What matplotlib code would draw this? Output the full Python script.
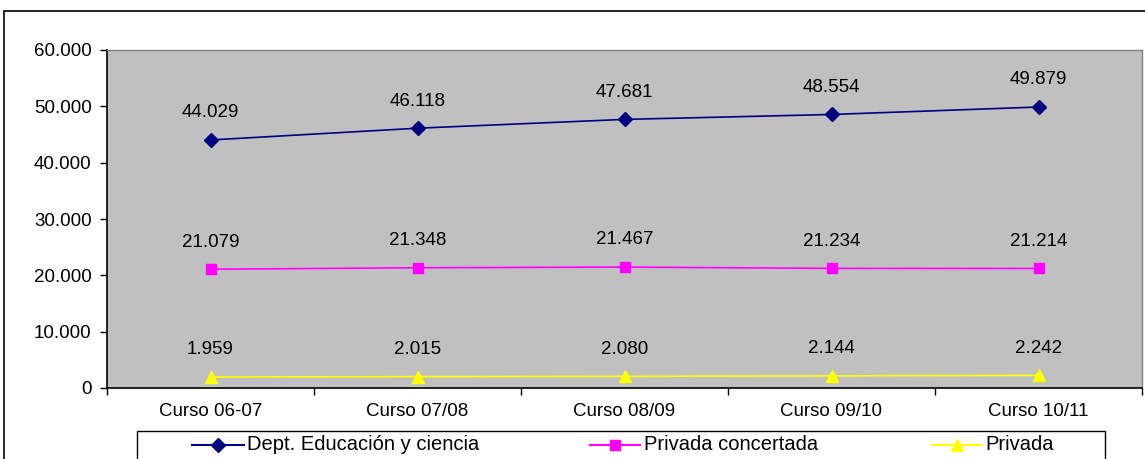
import matplotlib
matplotlib.use("Agg")
import matplotlib.pyplot as plt
from matplotlib.lines import Line2D
from matplotlib.patches import Rectangle
from matplotlib.ticker import FuncFormatter, FixedLocator

plt.rcParams['font.family'] = ['Liberation Sans', 'DejaVu Sans']

categories = ["Curso 06-07", "Curso 07/08", "Curso 08/09", "Curso 09/10", "Curso 10/11"]
dept = [44029, 46118, 47681, 48554, 49879]
concertada = [21079, 21348, 21467, 21234, 21214]
privada = [1959, 2015, 2080, 2144, 2242]
series_names = ["Dept. Educación y ciencia", "Privada concertada", "Privada"]

W, H = 1145, 459
FS = 13.5
fig = plt.figure(figsize=(W/100, H/100), dpi=100)
fig.patch.set_facecolor('white')

# outer chart border
fig.patches.append(Rectangle((4/W, -0.1), 1.2, 1 - 11/H + 0.1, transform=fig.transFigure,
                             fill=False, edgecolor='black', linewidth=1.2, clip_on=False))

ax = fig.add_axes([107/W, 1 - 388/H, (1142-107)/W, (388-50)/H])
ax.set_facecolor('#C0C0C0')

x = list(range(len(categories)))
styles = [
    (dept, '#000080', 'D', 7),
    (concertada, '#FF00FF', 's', 6.5),
    (privada, '#FFFF00', '^', 9),
]
for vals, col, mk, ms in styles:
    ax.plot(x, vals, color=col, marker=mk, markersize=ms, linewidth=1.2,
            markeredgecolor=col, markerfacecolor=col)
    for xi, v in zip(x, vals):
        lab = f"{v:,}".replace(",", ".")
        ax.annotate(lab, (xi, v), xytext=(0, 19.5), textcoords='offset points',
                    ha='center', va='center', fontsize=FS)

ax.set_xlim(-0.5, len(categories) - 0.5)
ax.set_ylim(0, 60000)
ax.set_yticks(range(0, 60001, 10000))
ax.yaxis.set_major_formatter(FuncFormatter(lambda v, p: f"{int(v):,}".replace(",", ".")))
ax.xaxis.set_major_locator(FixedLocator([i - 0.5 for i in range(len(categories) + 1)]))
ax.xaxis.set_minor_locator(FixedLocator(x))
ax.set_xticklabels([])
ax.set_xticklabels(categories, minor=True)
ax.tick_params(axis='x', which='major', length=5, direction='out', width=1)
ax.tick_params(axis='x', which='minor', length=0, pad=11, labelsize=FS)
ax.tick_params(axis='y', length=5, direction='out', width=1, labelsize=FS, pad=6)

for side in ['left', 'bottom']:
    ax.spines[side].set_color('black')
    ax.spines[side].set_linewidth(1.2)
for side in ['top', 'right']:
    ax.spines[side].set_color('#808080')
    ax.spines[side].set_linewidth(1)

# legend
fig.patches.append(Rectangle((137/W, -0.1), (1105-137)/W, 1 - 431/H + 0.1, transform=fig.transFigure,
                             fill=False, edgecolor='black', linewidth=1, clip_on=False))
leg_y = 1 - 445/H
handle_x = [(192, 244, 247), (590, 640, 644), (932, 982, 985)]
for (name, (vals, col, mk, ms)), (x0, x1, xt) in zip(zip(series_names, styles), handle_x):
    fig.lines.append(Line2D([x0/W, x1/W], [leg_y, leg_y], transform=fig.transFigure,
                            color=col, linewidth=1.5))
    fig.lines.append(Line2D([(x0+x1)/2/W], [leg_y], transform=fig.transFigure,
                            color=col, marker=mk, markersize=ms, linestyle='none'))
    fig.text(xt/W, leg_y, name, ha='left', va='center', fontsize=14.5)

fig.savefig("out.png", dpi=100)
